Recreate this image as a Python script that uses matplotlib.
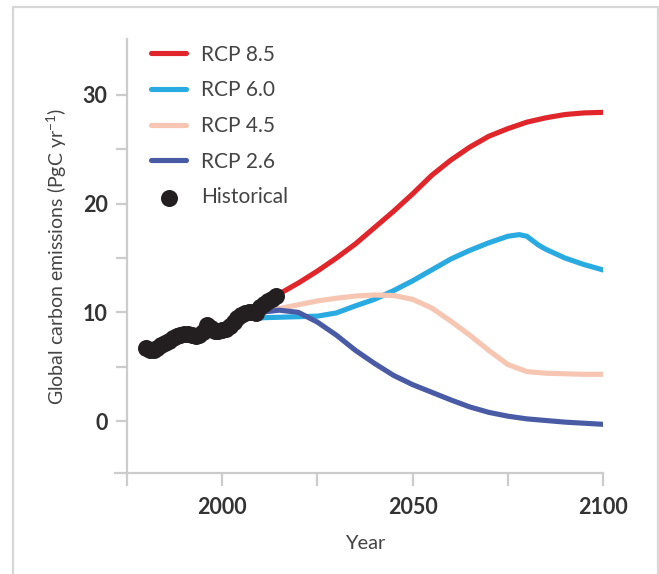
import matplotlib
matplotlib.use("Agg")
import matplotlib.pyplot as plt
from matplotlib.patches import Rectangle
from matplotlib.lines import Line2D

plt.rcParams['font.family'] = ['Lato', 'DejaVu Sans']
plt.rcParams['mathtext.default'] = 'regular'

# historical emissions
hist_years = list(range(1980, 2015))
hist_vals = [6.7, 6.5, 6.5, 6.7, 7.0, 7.2, 7.4, 7.6, 7.8, 7.9,
             8.0, 8.0, 7.9, 7.8, 7.9, 8.2, 8.8, 8.6, 8.3, 8.3,
             8.4, 8.5, 8.7, 9.1, 9.5, 9.8, 9.9, 10.0, 10.0, 9.9,
             10.5, 10.8, 11.0, 11.2, 11.5]

# scenarios
rcp_years = [2005, 2010, 2015, 2020, 2025, 2030, 2035, 2040, 2045, 2050,
             2055, 2060, 2065, 2070, 2075, 2080, 2085, 2090, 2095, 2100]
rcp85 = [9.6, 10.5, 11.7, 12.7, 13.8, 15.0, 16.3, 17.8, 19.3, 20.9,
         22.6, 24.0, 25.2, 26.2, 26.9, 27.5, 27.9, 28.2, 28.35, 28.4]
rcp45 = [9.5, 9.95, 10.35, 10.7, 11.05, 11.3, 11.5, 11.6, 11.55, 11.2,
         10.4, 9.2, 7.9, 6.5, 5.2, 4.55, 4.4, 4.35, 4.3, 4.3]
rcp26 = [9.5, 10.0, 10.2, 10.0, 9.1, 7.9, 6.5, 5.3, 4.2, 3.35,
         2.65, 1.95, 1.3, 0.8, 0.45, 0.2, 0.05, -0.1, -0.2, -0.3]
rcp60_years = [2005, 2010, 2015, 2020, 2025, 2030, 2035, 2040, 2045, 2050,
               2055, 2060, 2065, 2070, 2075, 2078, 2080, 2083, 2085, 2090,
               2095, 2100]
rcp60 = [9.4, 9.5, 9.55, 9.6, 9.65, 9.95, 10.6, 11.2, 12.0, 12.9,
         13.9, 14.9, 15.7, 16.4, 17.0, 17.15, 17.0, 16.2, 15.8, 15.0,
         14.4, 13.9]

grey = '#cccccc'
txt = '#333333'

fig = plt.figure(figsize=(6.59, 5.74), dpi=100)
ax = fig.add_axes([127/659, 1 - 473/574, 476/659, 434/574])

lw = 3.7
ax.plot(rcp_years, rcp85, color='#e0262a', lw=lw, solid_capstyle='round', label='RCP 8.5')
ax.plot(rcp60_years, rcp60, color='#29abe2', lw=lw, solid_capstyle='round', label='RCP 6.0')
ax.plot(rcp_years, rcp45, color='#f7c6b2', lw=lw, solid_capstyle='round', label='RCP 4.5')
ax.plot(rcp_years, rcp26, color='#4a5ba6', lw=lw, solid_capstyle='round', label='RCP 2.6')
ax.scatter(hist_years, hist_vals, s=150, color='#231f20', zorder=5,
           linewidths=0, label='Historical', clip_on=False)

ax.set_xlim(1975, 2100)
ax.set_ylim(-4.78, 35.15)

ax.set_xticks([2000, 2050, 2100])
ax.set_xticks([1975, 2025, 2075], minor=True)
ax.set_yticks([0, 10, 20, 30])
ax.set_yticks([5, 15, 25], minor=True)

for s in ['top', 'right']:
    ax.spines[s].set_visible(False)
for s in ['left', 'bottom']:
    ax.spines[s].set_color(grey)
    ax.spines[s].set_linewidth(1.6)
ax.tick_params(which='both', color=grey, width=1.6, direction='out')
ax.tick_params(axis='y', which='both', length=8)
ax.tick_params(axis='x', which='both', length=9.5)
ax.tick_params(axis='y', pad=6)
ax.tick_params(axis='x', pad=8)
for lab in ax.get_xticklabels() + ax.get_yticklabels():
    lab.set_fontweight('bold')
    lab.set_fontsize(15.5)
    lab.set_color(txt)

# bottom axis runs out to the tick tips on the left
ax.add_line(Line2D([-12/476, 0], [0, 0], transform=ax.transAxes,
                   color=grey, lw=1.6, clip_on=False))

ax.set_xlabel('Year', fontsize=14.5, color='#444444', labelpad=12)
ax.set_ylabel('Global carbon emissions (PgC yr$^{-1}$)', fontsize=14,
              color='#444444', labelpad=10)

leg = ax.legend(loc='upper left', bbox_to_anchor=(0.05, 0.987), frameon=False,
                fontsize=15, handlelength=1.7, handletextpad=0.7,
                labelspacing=0.75, borderpad=0, borderaxespad=0)
for t in leg.get_texts():
    t.set_color('#444444')

# light frame around the whole chart
fig.patches.append(Rectangle((13/659, -0.05), 645/659, 1.05 - 7/574,
                             transform=fig.transFigure, fill=False,
                             edgecolor='#d6d6d6', lw=1.6))

fig.savefig('out.png', dpi=100)
